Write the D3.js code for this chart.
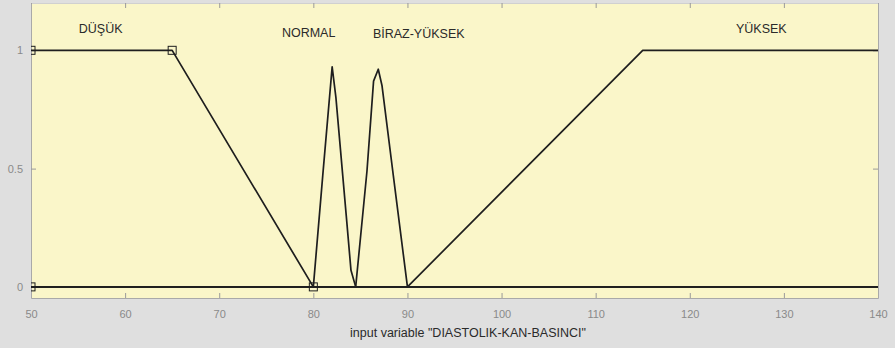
<!DOCTYPE html>
<html>
<head>
<meta charset="utf-8">
<script src="https://cdn.jsdelivr.net/npm/d3@7"></script>
<style>
  body { margin: 0; background: #dfdfdf; }
  svg { display: block; font-family: "Liberation Sans", Arial, sans-serif; }
</style>
</head>
<body>
<div id="chart"></div>
<script>
// membership functions, x in input units, y in degree
var mfNames = ["DÜŞÜK", "NORMAL", "BİRAZ-YÜKSEK", "YÜKSEK"];
var labelX = [57.4, 79.5, 91.2, 127.6];
var labelY = [1.09, 1.075, 1.07, 1.09];
var dusukPts = [[50, 1], [65, 1], [80, 0], [140, 0]];
var normalPts = [[50, 0], [80, 0], [81, 0.47], [82, 0.93], [82.4, 0.8], [83.5, 0.3], [84, 0.07], [84.5, 0], [140, 0]];
var birazPts = [[50, 0], [84.5, 0], [85.7, 0.49], [86.4, 0.87], [86.9, 0.92], [87.3, 0.85], [88.5, 0.47], [90, 0], [140, 0]];
var yuksekPts = [[50, 0], [90, 0], [115, 1], [140, 1]];
var markerPts = [[50, 0], [50, 1], [65, 1], [80, 0]];
var xTicks = [50, 60, 70, 80, 90, 100, 110, 120, 130, 140];
var yTicks = [0, 0.5, 1];
var xLabel = 'input variable "DIASTOLIK-KAN-BASINCI"';

var width = 895, height = 348;
var margin = {left: 31, right: 17, top: 3, bottom: 50};

var svg = d3.select("#chart").append("svg")
    .attr("width", width)
    .attr("height", height);

var x = d3.scaleLinear().domain([50, 140]).range([margin.left, width - margin.right]);
var y = d3.scaleLinear().domain([-0.047, 1.2]).range([height - margin.bottom, margin.top]);

// plot background
svg.append("rect")
    .attr("x", margin.left).attr("y", margin.top)
    .attr("width", width - margin.left - margin.right)
    .attr("height", height - margin.top - margin.bottom)
    .attr("fill", "#faf6c9");

svg.append("clipPath").attr("id", "clip")
  .append("rect")
    .attr("x", margin.left).attr("y", margin.top)
    .attr("width", width - margin.left - margin.right)
    .attr("height", height - margin.top - margin.bottom);

// axes with inward ticks
var xb = svg.append("g")
    .attr("transform", "translate(0," + (height - margin.bottom) + ")")
    .call(d3.axisBottom(x).tickValues(xTicks).tickSizeInner(-5).tickSizeOuter(0).tickPadding(12));
var xt = svg.append("g")
    .attr("transform", "translate(0," + margin.top + ")")
    .call(d3.axisTop(x).tickValues(xTicks).tickSizeInner(-5).tickSizeOuter(0).tickFormat(""));
var yl = svg.append("g")
    .attr("transform", "translate(" + margin.left + ",0)")
    .call(d3.axisLeft(y).tickValues(yTicks).tickSizeInner(-5).tickSizeOuter(0).tickPadding(8)
        .tickFormat(function (d) { return String(d); }));
var yr = svg.append("g")
    .attr("transform", "translate(" + (width - margin.right) + ",0)")
    .call(d3.axisRight(y).tickValues(yTicks).tickSizeInner(-5).tickSizeOuter(0).tickFormat(""));

[xb, xt, yl, yr].forEach(function (g) {
    g.select(".domain").attr("stroke", "#a9a9a9");
    g.selectAll(".tick line").attr("stroke", "#9a9a9a");
    g.selectAll(".tick text").attr("fill", "#8a8a8a").attr("font-size", 11)
        .attr("font-family", "Liberation Sans, Arial, sans-serif");
});
xt.select(".domain").attr("stroke", "#d0d0d0");

// membership function lines
var line = d3.line()
    .x(function (d) { return x(d[0]); })
    .y(function (d) { return y(d[1]); });

var plot = svg.append("g").attr("clip-path", "url(#clip)");

plot.selectAll(".mf")
    .data([dusukPts, normalPts, birazPts, yuksekPts])
    .enter()
    .append("path")
    .attr("class", "mf")
    .attr("d", line)
    .attr("fill", "none")
    .attr("stroke", "#1e1e1e")
    .attr("stroke-width", 1.7)
    .attr("stroke-linejoin", "round");

plot.selectAll(".marker")
    .data(markerPts)
    .enter()
    .append("rect")
    .attr("class", "marker")
    .attr("x", function (d) { return x(d[0]) - 4; })
    .attr("y", function (d) { return y(d[1]) - 4; })
    .attr("width", 8)
    .attr("height", 8)
    .attr("fill", "none")
    .attr("stroke", "#1e1e1e")
    .attr("stroke-width", 1);

// mf names
svg.selectAll(".mfname")
    .data(mfNames)
    .enter()
    .append("text")
    .attr("class", "mfname")
    .attr("x", function (d, i) { return x(labelX[i]); })
    .attr("y", function (d, i) { return y(labelY[i]); })
    .attr("dy", "0.35em")
    .attr("text-anchor", "middle")
    .attr("font-size", 12.5)
    .attr("fill", "#2a2a2a")
    .text(function (d) { return d; });

svg.append("text")
    .attr("x", 468)
    .attr("y", 337)
    .attr("text-anchor", "middle")
    .attr("font-size", 12.5)
    .attr("fill", "#2a2a2a")
    .text(xLabel);
</script>
</body>
</html>
